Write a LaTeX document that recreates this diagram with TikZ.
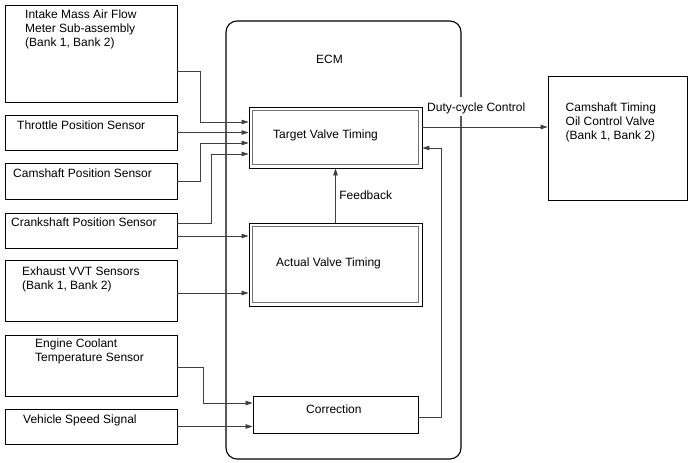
\documentclass[tikz,border=0pt]{standalone}
\usepackage{fontspec}
\setmainfont{Liberation Sans}
\usepackage{tikz}
\usetikzlibrary{positioning, arrows.meta, calc}

\begin{document}
\begin{tikzpicture}[x=1pt, y=-1pt,
        box/.style={draw, line width=0.9pt, inner sep=0pt},
        conn/.style={draw=black!75, line width=0.75pt, -{Triangle[length=7pt, width=4.5pt]}},
        txt/.style={anchor=north west, inner sep=0pt, align=left, font=\fontsize{12}{14}\selectfont}]
        \useasboundingbox (0,0) rectangle (688,463);

        % ECM frame
        \node[draw, line width=1.1pt, rounded corners=11pt, minimum width=235pt, minimum height=438pt] (ecm) at (343.5,240) {};
        \node[txt] at (316,55) {ECM};

        % Sensors (left column)
        \node[box, minimum width=172pt, minimum height=97pt] (maf) at (91,53.5) {};
        \node[box, minimum width=172pt, minimum height=35pt] (tps) at (91,132.5) {};
        \node[box, minimum width=172pt, minimum height=36pt] (cmp) at (91,181) {};
        \node[box, minimum width=172pt, minimum height=35pt] (ckp) at (91,230.5) {};
        \node[box, minimum width=172pt, minimum height=61pt] (vvt) at (91,290.5) {};
        \node[box, minimum width=172pt, minimum height=61pt] (ect) at (91,365.5) {};
        \node[box, minimum width=172pt, minimum height=35pt] (vss) at (91,426.5) {};

        \node[txt] at (25,10) {Intake Mass Air Flow\\Meter Sub-assembly\\(Bank 1, Bank 2)};
        \node[txt] at (17,120.7) {Throttle Position Sensor};
        \node[txt] at (13,168.5) {Camshaft Position Sensor};
        \node[txt] at (11,217.5) {Crankshaft Position Sensor};
        \node[txt] at (22,266.3) {Exhaust VVT Sensors\\(Bank 1, Bank 2)};
        \node[txt] at (35,338.5) {Engine Coolant\\Temperature Sensor};
        \node[txt] at (23,414.5) {Vehicle Speed Signal};

        % ECM blocks
        \node[box, minimum width=173pt, minimum height=61pt] (tvt) at (335.5,137.5) {};
        \node[box, minimum width=173pt, minimum height=83pt] (avt) at (335.5,264.5) {};
        \node[box, minimum width=165pt, minimum height=37pt] (corr) at (335.5,414.5) {};
        \foreach \n in {tvt, avt} {
            \draw[black!55, line width=0.8pt] ([xshift=4pt, yshift=-4pt]\n.north west) rectangle ([xshift=-4pt, yshift=4pt]\n.south east);
        }
        \node[txt] at (273,129.3) {Target Valve Timing};
        \node[txt] at (276,257.3) {Actual Valve Timing};
        \node[txt] at (306,405) {Correction};

        % Actuator
        \node[box, minimum width=139pt, minimum height=124pt] (ocv) at (617.5,138) {};
        \node[txt] at (565.5,102.7) {Camshaft Timing\\Oil Control Valve\\(Bank 1, Bank 2)};

        % Inputs to target valve timing
        \coordinate (tin1) at ([yshift=15.5pt]tvt.west);
        \coordinate (tin2) at ([yshift=5pt]tvt.west);
        \coordinate (tin3) at ([yshift=-5.5pt]tvt.west);
        \coordinate (tin4) at ([yshift=-16.5pt]tvt.west);
        \draw[conn] ([yshift=-17.5pt]maf.east) -| ([xshift=-48pt]tin1) -- (tin1);
        \draw[conn] (tps.east) -- (tin2);
        \draw[conn] (cmp.east) -| ([xshift=-48pt]tin3) -- (tin3);
        \draw[conn] ([yshift=7.5pt]ckp.east) -| ([xshift=-37pt]tin4) -- (tin4);

        % Inputs to actual valve timing
        \draw[conn] ([yshift=-5.5pt]ckp.east) -- ([yshift=-5.5pt]ckp.east -| avt.west);
        \draw[conn] ([yshift=-2.5pt]vvt.east) -- ([yshift=-2.5pt]vvt.east -| avt.west);

        % Inputs to correction
        \coordinate (cin1) at ([yshift=11.5pt]corr.west);
        \draw[conn] ([yshift=-1.5pt]ect.east) -| ([xshift=-49pt]cin1) -- (cin1);
        \draw[conn] (vss.east) -- (vss.east -| corr.west);

        % Feedback and correction back to target
        \draw[conn] (avt.north) -- node[right=3.5pt, inner sep=0pt, font=\fontsize{12}{14}\selectfont] {Feedback} (tvt.south);
        \coordinate (tfb) at ([yshift=-10.5pt]tvt.east);
        \draw[conn] ([yshift=-2.5pt]corr.east) -| ([xshift=19pt]tfb) -- (tfb);

        % Duty-cycle output
        \draw[conn] ([yshift=10.5pt]tvt.east) -- ([yshift=10.5pt]tvt.east -| ocv.west);
        \node[anchor=base west, fill=white, inner xsep=2pt, inner ysep=1.5pt, text height=13pt, text depth=3pt,
              font=\fontsize{12}{14}\selectfont] (duty) at (425,111.5) {Duty-cycle Control};
    \end{tikzpicture}
\end{document}
